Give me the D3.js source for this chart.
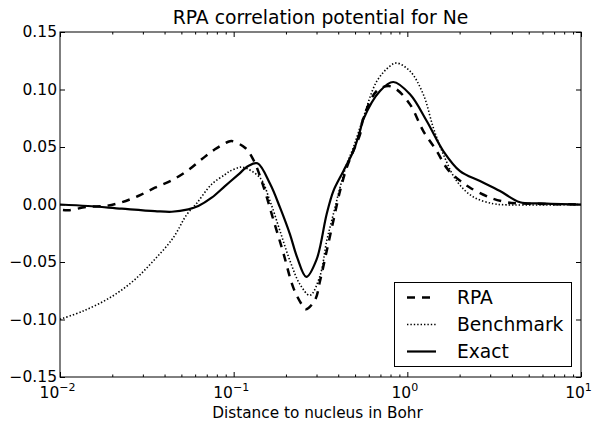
<!DOCTYPE html>
<html>
<head>
<meta charset="utf-8">
<script src="https://cdn.jsdelivr.net/npm/d3@7"></script>
<style>
  html, body { margin: 0; padding: 0; background: #fff; }
  svg { display: block; font-family: "DejaVu Sans", sans-serif; }
</style>
</head>
<body>
<svg id="chart" width="592" height="421"></svg>
<script>
// ---- data ----
const seriesNames = ["RPA", "Benchmark", "Exact"];

const rpaX = [0.0104, 0.0112, 0.0145, 0.0182, 0.0227, 0.0282, 0.0352, 0.044, 0.0548, 0.0654, 0.078, 0.0931, 0.0974, 0.1162, 0.1297, 0.1482, 0.1691, 0.1931, 0.2205, 0.2464, 0.26, 0.294, 0.3142, 0.3433, 0.3748, 0.4096, 0.4474, 0.4886, 0.534, 0.5578, 0.6662, 0.777, 0.8686, 1.036, 1.236, 1.476, 1.7, 2.0, 2.3, 3.0, 3.73, 4.455, 10];
const rpaY = [-0.0048, -0.005, -0.002, -0.0013, 0.002, 0.0074, 0.0146, 0.021, 0.030, 0.0393, 0.048, 0.0546, 0.0552, 0.0494, 0.039, 0.016, -0.013, -0.042, -0.0723, -0.0868, -0.0911, -0.083, -0.0665, -0.0404, -0.0143, 0.0117, 0.032, 0.0465, 0.061, 0.075, 0.0987, 0.103, 0.100, 0.0871, 0.0639, 0.0465, 0.031, 0.021, 0.0146, 0.0059, 0.002, 0.001, 0.0];

const benchX = [0.01, 0.0136, 0.0194, 0.0264, 0.0345, 0.0449, 0.0536, 0.0612, 0.0747, 0.0891, 0.0953, 0.1063, 0.113, 0.1417, 0.1619, 0.1848, 0.211, 0.2409, 0.275, 0.3142, 0.3433, 0.3748, 0.4096, 0.4474, 0.4886, 0.5578, 0.6662, 0.7947, 0.8686, 1.036, 1.236, 1.411, 1.611, 1.924, 2.398, 3.126, 3.734, 10];
const benchY = [-0.0998, -0.0926, -0.081, -0.0665, -0.049, -0.0289, -0.009, 0.001, 0.0176, 0.026, 0.029, 0.032, 0.0325, 0.0233, 0.003, -0.023, -0.049, -0.0694, -0.079, -0.062, -0.0317, -0.0085, 0.0146, 0.035, 0.0494, 0.0755, 0.107, 0.1204, 0.123, 0.116, 0.0958, 0.0668, 0.0437, 0.0204, 0.0066, 0.0007, -0.0003, 0.0];

const exactX = [0.01, 0.0145, 0.0227, 0.0352, 0.044, 0.0548, 0.0626, 0.0747, 0.0891, 0.1063, 0.1214, 0.137, 0.162, 0.185, 0.211, 0.232, 0.262, 0.3, 0.343, 0.375, 0.428, 0.489, 0.534, 0.558, 0.696, 0.83, 1.036, 1.293, 1.611, 2.011, 2.621, 3.417, 4.455, 5.806, 10];
const exactY = [0.0, -0.0013, -0.0036, -0.0057, -0.0063, -0.0042, -0.0013, 0.0059, 0.016, 0.026, 0.0335, 0.0358, 0.018, -0.0028, -0.026, -0.046, -0.063, -0.048, -0.0085, 0.0117, 0.029, 0.0465, 0.064, 0.074, 0.0987, 0.1065, 0.0958, 0.0726, 0.0465, 0.029, 0.0204, 0.0117, 0.002, 0.001, 0.0];

const xMajorTicks = [0.01, 0.1, 1, 10];
const xTickExponents = ["\u22122", "\u22121", "0", "1"];
const xMinorTicks = [2,3,4,5,6,7,8,9].flatMap(m => [0.01, 0.1, 1].map(d => m * d));
const yTicks = [-0.15, -0.10, -0.05, 0.00, 0.05, 0.10, 0.15];
const yTickLabels = ["\u22120.15", "\u22120.10", "\u22120.05", "0.00", "0.05", "0.10", "0.15"];

const titleText = "RPA correlation potential for Ne";
const xLabelText = "Distance to nucleus in Bohr";

// ---- layout ----
const svg = d3.select("#chart");
const L = 60, R = 581, T = 32, B = 377;

const x = d3.scaleLog().domain([0.01, 10]).range([L, R]);
const y = d3.scaleLinear().domain([-0.15, 0.15]).range([B, T]);

const zip = (xs, ys) => xs.map((v, i) => [v, ys[i]]);
const series = [
  { name: seriesNames[0], data: zip(rpaX, rpaY), width: 2.5, dash: "8,7" },
  { name: seriesNames[1], data: zip(benchX, benchY), width: 1.6, dash: "1.4,2" },
  { name: seriesNames[2], data: zip(exactX, exactY), width: 2.2, dash: null }
];

const line = d3.line()
  .x(d => x(d[0]))
  .y(d => y(d[1]))
  .curve(d3.curveCatmullRom.alpha(0.5));

svg.append("clipPath").attr("id", "plotclip")
  .append("rect").attr("x", L).attr("y", T).attr("width", R - L).attr("height", B - T);

const plot = svg.append("g").attr("clip-path", "url(#plotclip)");
series.forEach(s => {
  plot.append("path")
    .datum(s.data)
    .attr("d", line)
    .attr("fill", "none")
    .attr("stroke", "#000")
    .attr("stroke-width", s.width)
    .attr("stroke-dasharray", s.dash)
    .attr("stroke-linejoin", "round");
});

// ---- axes ----
function styleAxis(g) {
  g.select(".domain").remove();
  g.selectAll(".tick line").attr("stroke", "#000").attr("stroke-width", 1);
  g.selectAll(".tick text").attr("fill", "#000").style("font-family", "DejaVu Sans").style("font-size", "15.5px");
}

// y left
const yAxisL = svg.append("g").attr("transform", `translate(${L},0)`)
  .call(d3.axisLeft(y).tickValues(yTicks).tickSize(-5).tickPadding(3)
    .tickFormat((d, i) => yTickLabels[i]));
styleAxis(yAxisL);

// y right
const yAxisR = svg.append("g").attr("transform", `translate(${R},0)`)
  .call(d3.axisRight(y).tickValues(yTicks).tickSize(-5).tickFormat(""));
styleAxis(yAxisR);

// x bottom major
const xAxisB = svg.append("g").attr("transform", `translate(0,${B})`)
  .call(d3.axisBottom(x).tickValues(xMajorTicks).tickSize(-5).tickPadding(10).tickFormat(""));
styleAxis(xAxisB);
xAxisB.selectAll(".tick text").remove();
xAxisB.selectAll(".tick").each(function(d, i) {
  const t = d3.select(this).append("text")
    .attr("x", -3)
    .attr("y", 21)
    .attr("text-anchor", "middle")
    .attr("fill", "#000")
    .style("font-family", "DejaVu Sans")
    .style("font-size", "15.5px");
  t.append("tspan").text("10");
  t.append("tspan").attr("dy", -7).style("font-size", "11px").text(xTickExponents[i]);
});

// x bottom minor
const xAxisBm = svg.append("g").attr("transform", `translate(0,${B})`)
  .call(d3.axisBottom(x).tickValues(xMinorTicks).tickSize(-2.5).tickFormat(""));
styleAxis(xAxisBm);

// x top major + minor
const xAxisT = svg.append("g").attr("transform", `translate(0,${T})`)
  .call(d3.axisTop(x).tickValues(xMajorTicks).tickSize(-5).tickFormat(""));
styleAxis(xAxisT);
const xAxisTm = svg.append("g").attr("transform", `translate(0,${T})`)
  .call(d3.axisTop(x).tickValues(xMinorTicks).tickSize(-2.5).tickFormat(""));
styleAxis(xAxisTm);

// spines
svg.append("rect")
  .attr("x", L).attr("y", T).attr("width", R - L).attr("height", B - T)
  .attr("fill", "none").attr("stroke", "#000").attr("stroke-width", 1);

// ---- title & label ----
svg.append("text")
  .attr("x", (L + R) / 2).attr("y", 24)
  .attr("text-anchor", "middle")
  .style("font-size", "18.8px")
  .text(titleText);

svg.append("text")
  .attr("x", (L + R) / 2 - 3).attr("y", 418)
  .attr("text-anchor", "middle")
  .style("font-size", "15.3px")
  .text(xLabelText);

// ---- legend ----
const lg = svg.append("g");
lg.append("rect")
  .attr("x", 394.5).attr("y", 282.5).attr("width", 177).attr("height", 84)
  .attr("fill", "#fff").attr("stroke", "#000").attr("stroke-width", 1);
const rowsY = [297.5, 324.5, 351.5];
series.forEach((s, i) => {
  lg.append("line")
    .attr("x1", 407).attr("x2", 436)
    .attr("y1", rowsY[i]).attr("y2", rowsY[i])
    .attr("stroke", "#000")
    .attr("stroke-width", s.width)
    .attr("stroke-dasharray", s.dash);
  lg.append("text")
    .attr("x", 457).attr("y", rowsY[i] + 6.5)
    .style("font-size", "18.7px")
    .text(s.name);
});
</script>
</body>
</html>
